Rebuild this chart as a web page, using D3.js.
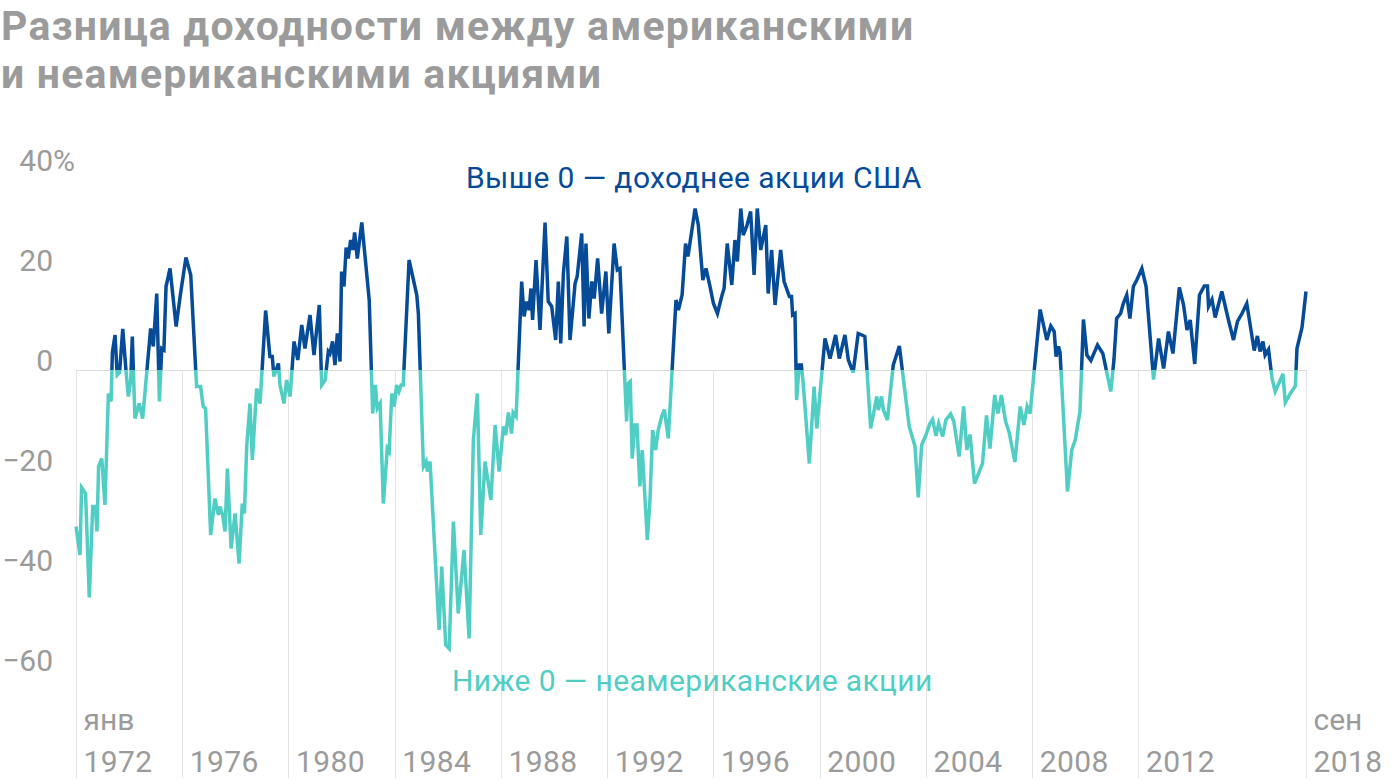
<!DOCTYPE html>
<html>
<head>
<meta charset="utf-8">
<script src="https://cdn.jsdelivr.net/npm/d3@7"></script>
<style>
  html, body { margin: 0; padding: 0; background: #fff; }
  svg { display: block; font-family: Roboto, 'Noto Sans', sans-serif; }
</style>
</head>
<body>
<div id="chart"></div>
<script>
// relative return, US minus non-US stocks, %
const dates = [
  1972.00, 1972.15, 1972.21, 1972.36, 1972.50, 1972.63, 1972.73, 1972.79, 1972.85, 1972.97,
  1973.09, 1973.22, 1973.32, 1973.37, 1973.47, 1973.55, 1973.64, 1973.76, 1973.88, 1973.97,
  1974.06, 1974.12, 1974.22, 1974.38, 1974.51, 1974.81, 1974.91, 1975.04, 1975.14, 1975.23,
  1975.31, 1975.39, 1975.54, 1975.77, 1975.92, 1976.14, 1976.32, 1976.54, 1976.69, 1976.79,
  1976.88, 1977.07, 1977.23, 1977.36, 1977.42, 1977.52, 1977.61, 1977.70, 1977.84, 1977.99,
  1978.14, 1978.26, 1978.34, 1978.43, 1978.55, 1978.64, 1978.80, 1978.93, 1979.14, 1979.30,
  1979.39, 1979.45, 1979.62, 1979.68, 1979.83, 1979.93, 1980.06, 1980.21, 1980.35, 1980.50,
  1980.62, 1980.81, 1980.96, 1981.16, 1981.25, 1981.38, 1981.50, 1981.56, 1981.66, 1981.75,
  1981.84, 1981.94, 1982.00, 1982.09, 1982.17, 1982.25, 1982.34, 1982.42, 1982.49, 1982.59,
  1982.76, 1983.04, 1983.17, 1983.27, 1983.34, 1983.45, 1983.57, 1983.72, 1983.79, 1983.89,
  1983.98, 1984.07, 1984.16, 1984.24, 1984.32, 1984.54, 1984.83, 1984.89, 1985.08, 1985.18,
  1985.23, 1985.33, 1985.67, 1985.77, 1985.92, 1986.05, 1986.21, 1986.39, 1986.61, 1986.80,
  1986.96, 1987.11, 1987.24, 1987.40, 1987.62, 1987.78, 1987.93, 1988.09, 1988.18, 1988.28,
  1988.40, 1988.46, 1988.57, 1988.78, 1988.87, 1988.97, 1989.06, 1989.13, 1989.19, 1989.32,
  1989.47, 1989.66, 1989.78, 1989.91, 1990.06, 1990.16, 1990.25, 1990.35, 1990.48, 1990.60,
  1990.79, 1990.87, 1991.04, 1991.13, 1991.20, 1991.31, 1991.42, 1991.51, 1991.64, 1991.79,
  1991.95, 1992.06, 1992.26, 1992.38, 1992.48, 1992.73, 1992.79, 1992.87, 1992.94, 1993.04,
  1993.12, 1993.23, 1993.32, 1993.51, 1993.61, 1993.71, 1993.82, 1993.92, 1994.05, 1994.15,
  1994.30, 1994.59, 1994.68, 1994.82, 1994.95, 1995.04, 1995.31, 1995.43, 1995.60, 1995.72,
  1995.87, 1996.00, 1996.15, 1996.31, 1996.40, 1996.52, 1996.69, 1996.81, 1996.90, 1997.03,
  1997.12, 1997.25, 1997.40, 1997.53, 1997.65, 1997.78, 1997.97, 1998.06, 1998.19, 1998.32,
  1998.53, 1998.66, 1998.86, 1998.94, 1998.98, 1999.07, 1999.13, 1999.23, 1999.31, 1999.38,
  1999.61, 1999.79, 1999.89, 2000.20, 2000.39, 2000.60, 2000.74, 2000.95, 2001.08, 2001.26,
  2001.45, 2001.59, 2001.70, 2001.92, 2002.15, 2002.21, 2002.33, 2002.40, 2002.55, 2002.77,
  2003.00, 2003.37, 2003.59, 2003.71, 2003.84, 2004.00, 2004.15, 2004.25, 2004.38, 2004.48,
  2004.63, 2004.75, 2004.93, 2005.05, 2005.25, 2005.42, 2005.54, 2005.66, 2005.83, 2006.13,
  2006.28, 2006.41, 2006.59, 2006.71, 2006.84, 2007.00, 2007.13, 2007.35, 2007.55, 2007.69,
  2007.81, 2007.92, 2008.30, 2008.55, 2008.70, 2008.83, 2008.90, 2008.99, 2009.05, 2009.33,
  2009.49, 2009.62, 2009.80, 2009.93, 2010.06, 2010.21, 2010.46, 2010.66, 2010.96, 2011.08,
  2011.18, 2011.33, 2011.43, 2011.56, 2011.68, 2011.81, 2011.94, 2012.13, 2012.29, 2012.57,
  2012.76, 2012.95, 2013.13, 2013.30, 2013.54, 2013.70, 2013.83, 2013.95, 2014.12, 2014.30,
  2014.48, 2014.60, 2014.64, 2014.77, 2014.89, 2015.14, 2015.39, 2015.58, 2015.73, 2015.90,
  2016.08, 2016.36, 2016.48, 2016.58, 2016.69, 2016.77, 2016.90, 2017.03, 2017.15, 2017.44,
  2017.53, 2017.72, 2017.91, 2017.97, 2018.16, 2018.31,
];
const values = [
  -31.3, -37, -23.5, -24.7, -45.5, -27.3, -27.3, -32.3, -19.3, -17.7,
  -27, -4.7, -6.3, 3.5, 7, -1, -0.5, 8.2, 0, -5.3,
  -2, 6.7, -9.7, -6.7, -9.7, 8.3, 4.7, 15.3, -6.3, 4.3,
  4, 16.7, 20.3, 8.7, 14.7, 22.5, 19, -3.3, -3.3, -7.3,
  -7.7, -33, -25.7, -29, -27.3, -29, -32.3, -19.7, -35.7, -28.7,
  -38.7, -26.7, -28.7, -15, -6.7, -18, -3.7, -6.7, 11.9, 2.7,
  2.7, -1.3, 1.3, -3, -6.7, -2, -5.3, 5.7, 2, 9,
  4.3, 11, 3, 13, -3, -2, 3.7, 3.3, 5.7, 1,
  7.3, 1.7, 19.7, 16.7, 24.5, 22.3, 26, 24, 27.5, 22.3,
  29.5, 14, -8.7, -3, -7.7, -6.7, -26.7, -15.7, -16.3, -4.7,
  -7.3, -3, -4.3, -3, -3, 22, 15, 11.3, -19.3, -18.3,
  -20.3, -18.3, -52, -39.3, -55, -55.7, -30.3, -48.7, -36, -53.7,
  -14, -4.7, -33, -18.3, -26, -11, -20.3, -11.3, -13, -8.5,
  -12.7, -8.5, -9.3, 17.7, 10.7, 13.7, 12, 16.3, 10, 22,
  8, 29.5, 13.7, 12.7, 6, 17.7, 5.3, 19.3, 26.7, 6,
  17.3, 18.7, 27.3, 8.7, 25.3, 10.3, 17.7, 14.3, 22.3, 11.3,
  19.7, 7.3, 25.3, 20, 20.3, -10.3, -2.7, -2.3, -17.7, -11,
  -11, -23.3, -16, -34, -26, -12, -16, -12, -9.3, -7.9,
  -13.7, 14, 12, 15, 25.3, 22.7, 32.3, 29, 18, 20.3,
  16.7, 13.3, 11.3, 14.7, 16.3, 25.3, 17, 26, 21.7, 32.3,
  27, 28.7, 31.7, 19, 32.3, 24, 29, 15.3, 24, 13,
  24, 17.7, 14.7, 14.7, 11, 11.3, -6, 1, 1, -2.7,
  -18.7, -3.3, -11.7, 6.3, 2.3, 7, 2.3, 7, 2, -0.5,
  7.3, 7, 6.7, -11.7, -5.3, -8, -5.3, -8, -10, 1,
  4.8, -11.3, -15.3, -25.5, -15, -13, -10.7, -9.9, -13.2, -10.7,
  -13.3, -10, -8.8, -10.3, -17.3, -7.3, -16, -12.9, -22.7, -18.7,
  -9.1, -15.7, -5, -8.7, -5, -10.3, -12.4, -18.4, -7.3, -11,
  -7.3, -8.7, 12.1, 6, 8.8, 7.7, 2.7, 4.7, 3.5, -24.3,
  -16, -14, -8.3, 10.1, 3, 1.9, 5, 3.3, -4.3, 2.1,
  10.3, 11.3, 13.3, 15, 10.3, 16.7, 18, 20.3, 16.7, -1.9,
  6.3, 0.3, 7.7, 3.3, 16.5, 13, 8, 10, 1.2, 15,
  16.8, 16.8, 12.7, 14.1, 10.5, 15.7, 10, 6, 9.7, 11.3,
  13.3, 3.9, 6.8, 3.7, 5.7, 3, 4.1, -1.7, -4.3, -0.8,
  -6.5, -4.7, -3.2, 4.3, 8.5, 15.7,
];
const yTicks = [-60, -40, -20, 0, 20, 40];
const yearTicks = [1972, 1976, 1980, 1984, 1988, 1992, 1996, 2000, 2004, 2008, 2012];
const lastDate = 2018.31;
const firstLabel = ['янв', '1972'];
const lastLabel = ['сен', '2018'];
const titleLines = ['Разница доходности между американскими', 'и неамериканскими акциями'];
const noteAbove = 'Выше 0 — доходнее акции США';
const noteBelow = 'Ниже 0 — неамериканские акции';

const width = 1400;
const height = 780;
const colorUp = '#054b98';
const colorDown = '#50cec4';
const grey = '#9b9b9b';
const labelSize = 30;

const data = dates.map((d, i) => ({ date: d, value: values[i] }));

const x = d3.scaleLinear().domain([dates[0], lastDate]).range([76, 1306]);
const y = d3.scaleLinear().domain([-60, 40]).range([670, 170]);

const svg = d3.select('#chart')
  .append('svg')
  .attr('width', width)
  .attr('height', height);

// title
svg.append('g')
  .selectAll('text')
  .data(titleLines)
  .join('text')
  .attr('x', 1)
  .attr('y', (d, i) => 40 + i * 48)
  .attr('fill', grey)
  .attr('font-size', 41)
  .attr('font-weight', 700)
  .attr('letter-spacing', 1.2)
  .text((d) => d);

// vertical grid lines, zero line down to the bottom
const gridTicks = yearTicks.concat([lastDate]);
svg.append('g')
  .selectAll('line')
  .data(gridTicks)
  .join('line')
  .attr('x1', (d) => Math.round(x(d)) + 0.5)
  .attr('x2', (d) => Math.round(x(d)) + 0.5)
  .attr('y1', y(0))
  .attr('y2', 778)
  .attr('stroke', '#e3e3e3')
  .attr('stroke-width', 1);

svg.append('line')
  .attr('x1', x(dates[0]))
  .attr('x2', x(lastDate))
  .attr('y1', Math.round(y(0)) + 0.5)
  .attr('y2', Math.round(y(0)) + 0.5)
  .attr('stroke', '#dcdcdc');

// y axis
const yAxis = svg.append('g')
  .attr('transform', 'translate(53,0)')
  .call(d3.axisLeft(y).tickValues(yTicks).tickSize(0).tickPadding(0)
    .tickFormat(d3.format('d')));
yAxis.select('.domain').remove();
yAxis.selectAll('text')
  .attr('dy', 0)
  .attr('fill', grey)
  .attr('font-size', labelSize)
  .attr('font-family', 'Roboto, sans-serif');
yAxis.selectAll('.tick')
  .filter((d) => d === 40)
  .append('text')
  .attr('x', 0)
  .attr('text-anchor', 'start')
  .attr('fill', grey)
  .attr('font-size', labelSize)
  .attr('font-family', 'Roboto, sans-serif')
  .text('%');

// x axis labels
const xAxis = svg.append('g')
  .attr('transform', 'translate(0,772)')
  .call(d3.axisBottom(x).tickValues(gridTicks).tickSize(0).tickPadding(0)
    .tickFormat((d) => (d === lastDate ? lastLabel[1] : d3.format('d')(d))));
xAxis.select('.domain').remove();
xAxis.selectAll('text')
  .attr('x', 7)
  .attr('y', 0)
  .attr('dy', 0)
  .attr('text-anchor', 'start')
  .attr('fill', grey)
  .attr('font-size', labelSize)
  .attr('letter-spacing', 0.4)
  .attr('font-family', 'Roboto, sans-serif');
xAxis.selectAll('.tick')
  .filter((d) => d === dates[0] || d === lastDate)
  .append('text')
  .attr('x', 7)
  .attr('y', -42)
  .attr('text-anchor', 'start')
  .attr('fill', grey)
  .attr('font-size', labelSize)
  .attr('font-family', 'Roboto, sans-serif')
  .text((d) => (d === lastDate ? lastLabel[0] : firstLabel[0]));

// line, split at zero with two clips
const defs = svg.append('defs');
defs.append('clipPath').attr('id', 'clip-up')
  .append('rect')
  .attr('x', 0).attr('y', 0)
  .attr('width', width).attr('height', y(0));
defs.append('clipPath').attr('id', 'clip-down')
  .append('rect')
  .attr('x', 0).attr('y', y(0))
  .attr('width', width).attr('height', height - y(0));

const line = d3.line()
  .x((d) => x(d.date))
  .y((d) => y(d.value));

[['clip-up', colorUp], ['clip-down', colorDown]].forEach(([id, color]) => {
  svg.append('path')
    .datum(data)
    .attr('clip-path', `url(#${id})`)
    .attr('fill', 'none')
    .attr('stroke', color)
    .attr('stroke-width', 3.5)
    .attr('stroke-linejoin', 'miter')
    .attr('d', line);
});

// notes
svg.append('text')
  .attr('x', 466)
  .attr('y', 188)
  .attr('fill', colorUp)
  .attr('font-size', 30)
  .attr('letter-spacing', 0.4)
  .text(noteAbove);

svg.append('text')
  .attr('x', 452)
  .attr('y', 691)
  .attr('fill', colorDown)
  .attr('font-size', 30)
  .attr('letter-spacing', 0.4)
  .text(noteBelow);
</script>
</body>
</html>
